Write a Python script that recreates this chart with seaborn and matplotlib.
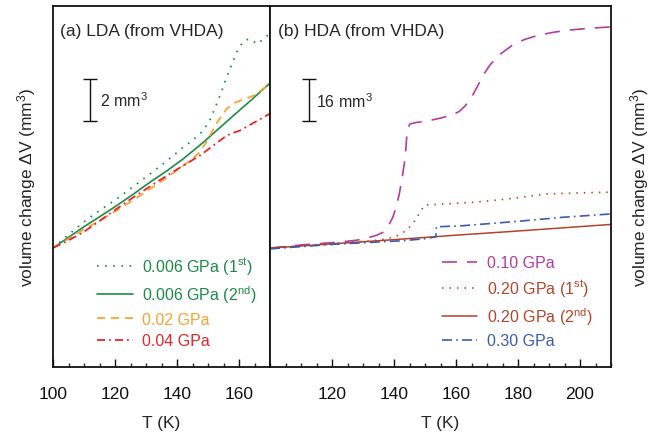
import numpy as np
import pandas as pd
import matplotlib
matplotlib.use("Agg")
import matplotlib.pyplot as plt
import seaborn as sns

# ---------------- data ----------------
# Panel (a): LDA (from VHDA); dV in mm^3 relative to 100 K
T_a_dot1 = [100, 105, 109.8, 115, 120.5, 126, 131.3, 137, 142.0, 145.5, 148.5, 150.8, 152.8, 154.5,
            156.0, 157.8, 159.3, 160.5, 161.4, 162.8, 164.1, 165.0, 165.7, 168, 170.0]
dV_a_dot1 = [0, 0.63, 1.22, 1.78, 2.33, 2.93, 3.52, 4.18, 4.79, 5.18, 5.59, 6.15, 6.86, 7.50,
             8.13, 8.78, 9.32, 9.64, 9.83, 9.93, 9.92, 9.80, 9.71, 9.95, 10.24]

T_a_sol2 = [100, 105, 109.8, 115, 120.5, 126, 131.3, 137, 142.0, 148.5, 153, 158.2, 164, 170.0]
dV_a_sol2 = [0, 0.50, 0.99, 1.48, 2.01, 2.57, 3.13, 3.70, 4.24, 5.03, 5.62, 6.30, 7.05, 7.85]

T_a_002 = [100, 105, 109.8, 115, 120.5, 126, 131.3, 137, 142.0, 145, 147.4, 149, 150.6, 153,
           156.0, 158, 160.3, 162.5, 164.6, 167, 170.0]
dV_a_002 = [0, 0.43, 0.87, 1.30, 1.78, 2.29, 2.81, 3.38, 3.92, 4.25, 4.56, 4.93, 5.35, 5.98,
            6.62, 6.87, 7.01, 7.12, 7.25, 7.48, 7.85]

T_a_004 = [100, 105, 109.8, 115.2, 120.5, 125.9, 131.3, 136.7, 142, 147.4, 151.5, 156.0, 158.5,
           160.3, 163.5, 166.5, 170.0]
dV_a_004 = [0, 0.36, 0.75, 1.30, 1.86, 2.41, 2.93, 3.44, 3.92, 4.40, 4.85, 5.35, 5.50,
            5.59, 5.86, 6.10, 6.40]

# Panel (b): HDA (from VHDA)
T_b_010 = [100, 110.7, 121.4, 128, 132.1, 134.5, 136.4, 138, 139.6, 140.7, 141.7, 142.6, 143.3,
           143.8, 144.1, 144.5, 145.2, 147, 150.3, 155, 158.5, 161, 163, 165, 167, 169, 171,
           174, 178, 182, 186, 191, 196, 202, 208.1, 210]
dV_b_010 = [0, 1.26, 2.17, 3.0, 4.08, 4.9, 5.98, 8.0, 11.7, 15.5, 20.6, 26.5, 32.0,
            37.5, 42.2, 45.8, 47.3, 47.8, 48.3, 49.5, 50.6, 52.0, 54.2, 57.4, 61.8, 66.3, 69.8,
            73.6, 77.1, 79.4, 80.9, 82.1, 83.0, 83.6, 84.1, 84.2]

T_b_020a = [100, 121.4, 131, 135.3, 138.5, 141.7, 144, 146.0, 148.7, 149.8, 156.7, 167.4, 178.1,
            188.8, 199.5, 210.0]
dV_b_020a = [0, 1.9, 2.6, 3.05, 3.8, 4.95, 6.8, 9.14, 14.2, 16.4, 16.8, 17.6, 18.9,
             20.6, 21.0, 21.3]

T_b_020b = [100, 120, 140, 160, 180, 210]
dV_b_020b = [0, 1.6, 3.2, 4.9, 6.5, 9.0]

T_b_030 = [100, 121.4, 142.8, 150.3, 153.5, 153.7, 162.1, 178.1, 194.2, 210.0]
dV_b_030 = [-0.3, 1.5, 2.8, 3.6, 4.3, 8.1, 8.5, 10.0, 11.7, 13.0]

labels_a = ["0.006 GPa (1$^{\\mathrm{st}}$)", "0.006 GPa (2$^{\\mathrm{nd}}$)", "0.02 GPa", "0.04 GPa"]
labels_b = ["0.10 GPa", "0.20 GPa (1$^{\\mathrm{st}}$)", "0.20 GPa (2$^{\\mathrm{nd}}$)", "0.30 GPa"]

ticks_a = [100, 120, 140, 160]
ticks_b = [120, 140, 160, 180, 200]
scale_a = 2     # mm^3 scale bar
scale_b = 16

# ---------------- style ----------------
sns.set_style("ticks")
plt.rcParams["font.family"] = ["Liberation Sans", "DejaVu Sans"]
plt.rcParams["mathtext.fontset"] = "custom"
plt.rcParams["mathtext.rm"] = "Liberation Sans"
plt.rcParams["mathtext.it"] = "Liberation Sans:italic"
plt.rcParams["mathtext.bf"] = "Liberation Sans:bold"
FS = 12.5
FS_SMALL = 11.5

fig = plt.figure(figsize=(6.53, 4.35), dpi=100)
axA = fig.add_axes([53/653, 1-368/435, 217/653, 361/435])
axB = fig.add_axes([270/653, 1-368/435, 341/653, 361/435])

green = "#1d8a48"
orange = "#f7a233"
red = "#e8242b"
purple = "#b23d9e"
brown = "#b3442b"
blue = "#3b5bb0"

def draw(ax, T, dV, color, label, ls, lw=1.1):
    df = pd.DataFrame({"T": T, "dV": dV})
    sns.lineplot(data=df, x="T", y="dV", ax=ax, color=color, label=label,
                 linewidth=lw, sort=False, estimator=None)
    ln = ax.get_lines()[-1]
    if ls is not None:
        ln.set_dashes(ls)

draw(axA, T_a_dot1, dV_a_dot1, green, labels_a[0], (0.9, 3.6), lw=1.3)
draw(axA, T_a_sol2, dV_a_sol2, green, labels_a[1], None, lw=1.2)
draw(axA, T_a_002, dV_a_002, orange, labels_a[2], (4.5, 3.2), lw=1.3)
draw(axA, T_a_004, dV_a_004, red, labels_a[3], (4.5, 2.2, 1, 2.2), lw=1.3)

draw(axB, T_b_010, dV_b_010, purple, labels_b[0], (9, 6), lw=1.2)
draw(axB, T_b_020a, dV_b_020a, brown, labels_b[1], (0.9, 3.6), lw=1.2)
draw(axB, T_b_020b, dV_b_020b, brown, labels_b[2], None, lw=1.1)
draw(axB, T_b_030, dV_b_030, blue, labels_b[3], (6, 2.5, 1, 2.5), lw=1.2)

# axes limits
axA.set_xlim(100, 170)
axA.set_ylim(-5.67, 11.52)
axB.set_xlim(100, 210)
axB.set_ylim(-45.3, 92.2)

for ax, ticks in ((axA, ticks_a), (axB, ticks_b)):
    ax.set_xticks(ticks)
    ax.set_xticks(np.arange(100, ax.get_xlim()[1] + 0.1, 5), minor=True)
    ax.set_yticks([])
    ax.tick_params(axis="x", which="major", direction="in", length=5.5, width=1.0,
                   labelsize=FS, pad=14, top=False, colors="#111111")
    ax.tick_params(axis="x", which="minor", direction="in", length=3, width=1.0, top=False)
    for s in ax.spines.values():
        s.set_linewidth(1.3)
        s.set_color("#111111")
    ax.set_xlabel("T (K)", fontsize=FS, labelpad=10)
    ax.set_ylabel("volume change \u0394V (mm$^3$)", fontsize=FS)

axA.yaxis.labelpad = 11
axB.yaxis.set_label_position("right")
axB.yaxis.labelpad = 12

# panel titles
axA.text(0.032, 0.931, "(a) LDA (from VHDA)", transform=axA.transAxes, fontsize=FS,
         va="center", ha="left")
axB.text(0.023, 0.931, "(b) HDA (from VHDA)", transform=axB.transAxes, fontsize=FS,
         va="center", ha="left")

# scale bars
axA.errorbar([111.9], [6.05 + scale_a/2], yerr=[scale_a/2], color="#111111",
             capsize=5, elinewidth=1.0, capthick=1.0, fmt="none")
axA.text(115.0, 6.05 + scale_a/2, "2 mm$^3$", fontsize=FS_SMALL, va="center", ha="left")
axB.errorbar([112.5], [48.3 + scale_b/2], yerr=[scale_b/2], color="#111111",
             capsize=5, elinewidth=1.0, capthick=1.0, fmt="none")
axB.text(114.8, 48.3 + scale_b/2, "16 mm$^3$", fontsize=FS_SMALL, va="center", ha="left")

# legends
for ax, xa in ((axA, 0.205), (axB, 0.505)):
    ax.legend(loc="upper left", bbox_to_anchor=(xa, 0.309), frameon=False, fontsize=FS_SMALL,
              handlelength=2.2, handletextpad=0.6, labelspacing=0.42,
              borderpad=0, borderaxespad=0, labelcolor="linecolor")

fig.savefig("out.png", dpi=100)
